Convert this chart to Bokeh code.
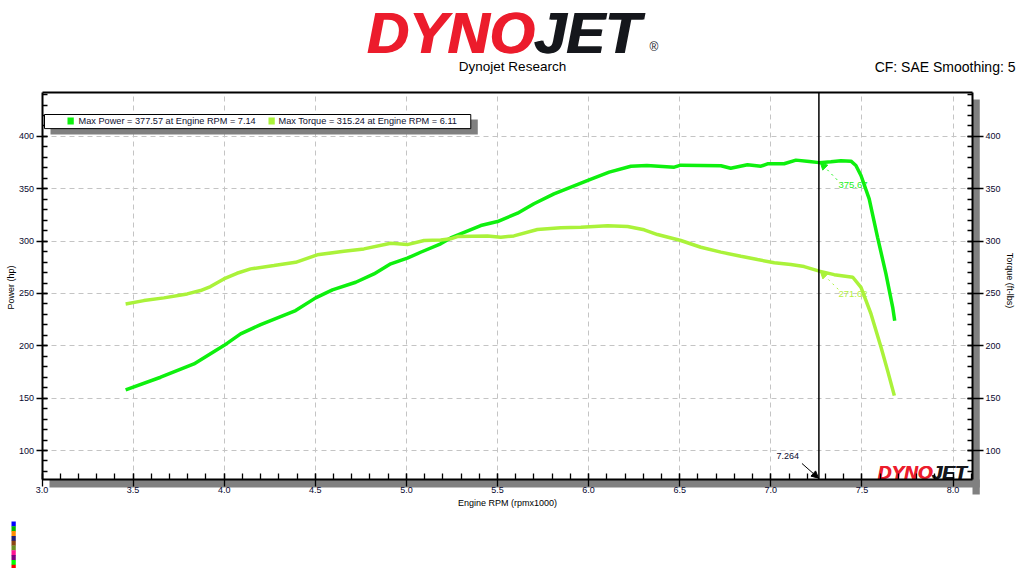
import numpy as np
from bokeh.plotting import figure
from bokeh.models import (Range1d, LinearAxis, SingleIntervalTicker, Label,
                          Arrow, NormalHead, NumeralTickFormatter)
from bokeh.embed import file_html
from bokeh.resources import INLINE

# ---------------- data ----------------
power_rpm = [3.459, 3.651, 3.834, 3.998, 4.090, 4.200, 4.392, 4.502, 4.594, 4.722,
             4.822, 4.914, 5.005, 5.078, 5.188, 5.243, 5.408, 5.500, 5.610, 5.700,
             5.810, 6.003, 6.113, 6.232, 6.320, 6.470, 6.506, 6.616, 6.726, 6.780,
             6.872, 6.946, 6.982, 7.073, 7.138, 7.211, 7.266, 7.330, 7.385, 7.440,
             7.467, 7.495, 7.540, 7.586, 7.632, 7.669, 7.680]
power_hp = [158.0, 170.0, 182.7, 200.2, 211.4, 220.3, 233.7, 245.8, 253.4, 260.7,
            268.7, 278.3, 283.7, 289.4, 297.4, 303.1, 314.9, 318.7, 326.7, 335.7,
            345.2, 358.6, 365.9, 371.6, 372.3, 370.7, 372.6, 372.3, 372.0, 369.7,
            372.9, 371.6, 373.9, 373.9, 377.4, 376.1, 375.0, 375.8, 376.8, 376.4,
            372.3, 362.7, 340.4, 303.7, 268.7, 236.8, 224.0]

torque_rpm = [3.459, 3.559, 3.669, 3.797, 3.870, 3.925, 3.998, 4.070, 4.145, 4.273,
              4.392, 4.511, 4.657, 4.767, 4.914, 5.005, 5.097, 5.188, 5.243, 5.280,
              5.445, 5.518, 5.590, 5.719, 5.847, 5.957, 6.104, 6.214, 6.305, 6.378,
              6.506, 6.616, 6.726, 6.836, 6.927, 7.019, 7.110, 7.183, 7.266, 7.348,
              7.450, 7.495, 7.550, 7.605, 7.641, 7.678]
torque_ftlb = [240.0, 243.2, 245.8, 249.6, 252.8, 256.6, 263.9, 269.3, 273.5, 276.7,
               279.8, 286.9, 290.3, 292.6, 298.0, 296.7, 300.6, 301.2, 302.2, 304.4,
               305.0, 303.7, 305.0, 311.1, 312.7, 313.3, 314.6, 314.0, 310.8, 306.3,
               300.6, 294.2, 289.5, 285.6, 282.4, 279.3, 277.6, 275.7, 271.4, 268.0,
               265.5, 255.9, 230.5, 198.6, 176.3, 152.4]

x_bounds = [3.0, 8.107]          # rpm x1000 shown on the axis
y_bounds = [72.3, 442.0]         # hp / ft-lbs shown on the axes
x_major_ticks = [3.0, 3.5, 4.0, 4.5, 5.0, 5.5, 6.0, 6.5, 7.0, 7.5, 8.0]
y_major_ticks = [100, 150, 200, 250, 300, 350, 400]

cursor_rpm = 7.264
cursor_power_text = "375.67"
cursor_torque_text = "271.62"
legend_power_text = "Max Power = 377.57 at Engine RPM = 7.14"
legend_torque_text = "Max Torque = 315.24 at Engine RPM = 6.11"
swatch_colors = ["#0000FF", "#00B400", "#FF8C00", "#1E1E78", "#8B4513",
                 "#6B8E23", "#FF1493", "#800080", "#00FF00", "#FF0000"]

POWER_C = "#0EF00E"
TORQUE_C = "#AAF23A"
LOGO_RED = "#EC1C2C"
LOGO_DARK = "#15171C"
FONT = "Liberation Sans"
TICK_C = "#0a0a30"

# ---------------- geometry (page pixels) ----------------
W, H = 1016, 568
FL, FR, FT, FB = 41.5, 972.0, 92.0, 479.0   # chart box on the page
sx = (FR - FL) / (x_bounds[1] - x_bounds[0])
sy = (FB - FT) / (y_bounds[1] - y_bounds[0])
x_range = Range1d(x_bounds[0] - FL / sx, x_bounds[1] + (W - FR) / sx)
y_range = Range1d(y_bounds[0] - (H - FB) / sy, y_bounds[1] + FT / sy)

p = figure(width=W, height=H, output_backend="svg", toolbar_location=None,
           x_range=x_range, y_range=y_range,
           min_border_left=0, min_border_right=0, min_border_top=0,
           min_border_bottom=0, x_axis_location=None, y_axis_location=None)
p.title.visible = False
p.background_fill_color = "white"
p.border_fill_color = "white"
p.outline_line_color = None

xt = SingleIntervalTicker(interval=0.5, num_minor_ticks=5)
yt = SingleIntervalTicker(interval=50, num_minor_ticks=5)

xa = LinearAxis(ticker=xt, formatter=NumeralTickFormatter(format="0.0"),
                fixed_location=y_bounds[0], bounds=tuple(x_bounds),
                major_tick_in=6, major_tick_out=7, minor_tick_in=6, minor_tick_out=0,
                major_label_standoff=0, axis_label="Engine RPM (rpmx1000)",
                axis_label_standoff=2, axis_label_text_font=FONT,
                axis_label_text_font_style="normal", axis_label_text_font_size="9px",
                axis_label_text_color="black")
p.add_layout(xa, "below")

ya = LinearAxis(ticker=yt, fixed_location=x_bounds[0], bounds=tuple(y_bounds),
                major_tick_in=5, major_tick_out=6, minor_tick_in=5, minor_tick_out=0,
                major_label_standoff=2)
p.add_layout(ya, "left")

yr = LinearAxis(ticker=yt, fixed_location=x_bounds[1], bounds=tuple(y_bounds),
                major_tick_in=5, major_tick_out=11, minor_tick_in=5, minor_tick_out=0,
                major_label_standoff=2)
p.add_layout(yr, "right")

xtop = LinearAxis(ticker=xt, fixed_location=y_bounds[1], bounds=tuple(x_bounds),
                  major_tick_in=0, major_tick_out=0, minor_tick_in=0, minor_tick_out=0,
                  major_label_text_color=None)
p.add_layout(xtop, "above")

for ax in (xa, ya, yr, xtop):
    ax.axis_line_color = "black"
    ax.axis_line_width = 2
    ax.major_tick_line_color = "black"
    ax.minor_tick_line_color = "black"
    ax.major_tick_line_width = 1.3
    ax.minor_tick_line_width = 1.3
    ax.major_label_text_font = FONT
    ax.major_label_text_font_size = "9px"
for ax in (xa, ya, yr):
    ax.major_label_text_color = TICK_C

# grid limited to the chart box
xg, yg = p.xgrid[0], p.ygrid[0]
if "cross_bounds" in xg.properties():
    xg.ticker = xt
    yg.ticker = yt
    xg.bounds = tuple(x_bounds)
    yg.bounds = tuple(y_bounds)
    xg.cross_bounds = tuple(y_bounds)
    yg.cross_bounds = tuple(x_bounds)
    for g in (xg, yg):
        g.grid_line_color = "#c4c4c4"
        g.grid_line_dash = "5 4"
        g.grid_line_width = 1
else:
    xg.visible = False
    yg.visible = False
    p.segment(x0=x_major_ticks, y0=[y_bounds[0]] * len(x_major_ticks),
              x1=x_major_ticks, y1=[y_bounds[1]] * len(x_major_ticks),
              line_color="#c4c4c4", line_dash="5 4", line_width=1, level="underlay")
    p.segment(x0=[x_bounds[0]] * len(y_major_ticks), y0=y_major_ticks,
              x1=[x_bounds[1]] * len(y_major_ticks), y1=y_major_ticks,
              line_color="#c4c4c4", line_dash="5 4", line_width=1, level="underlay")


def box(px, py, w, h, color, border=None, level="underlay"):
    """Plain rectangle, top-left at page pixel (px, py)."""
    lab = Label(x=px, y=H - py, x_units="screen", y_units="screen", text=" ",
                text_font_size="1px", anchor="top_left",
                padding=dict(left=0, right=int(w), top=0, bottom=int(h)),
                background_fill_color=color, level=level,
                border_line_color=border, border_line_width=1)
    p.add_layout(lab)


def txt(px, py, s, size, color="black", align="left", baseline="middle",
        style="normal", angle=0.0, level="annotation"):
    lab = Label(x=px, y=H - py, x_units="screen", y_units="screen", text=s,
                text_font=FONT, text_font_size=size, text_color=color,
                text_align=align, text_baseline=baseline, text_font_style=style,
                angle=angle, level=level)
    p.add_layout(lab)


# chart box shadow
box(FR, FT + 7, 7, FB - FT + 7, "#808080")
box(FL + 7.5, FB, FR - FL, 7, "#808080")

# legend with shadow
box(50, 119, 427, 14, "#808080", level="annotation")
box(44, 114, 426, 13, "white", border="black", level="annotation")
box(67, 117, 6, 6, POWER_C, level="annotation")
box(268, 117, 6, 6, TORQUE_C, level="annotation")
txt(78, 120.5, legend_power_text, "9.2px", color="#101030")
txt(278, 120.5, legend_torque_text, "9.2px", color="#101030")

# header logo (drawn twice, slightly offset, for a heavier weight)
for dx in (0.0, 1.5):
    txt(366 + dx, 32, "DYNO", "58px", color=LOGO_RED, style="bold italic")
    txt(533 + dx, 32, "JET", "58px", color=LOGO_DARK, style="bold italic")
txt(649, 46, "\u00ae", "12px", color=LOGO_DARK)
txt(512, 66, "Dynojet Research", "13.5px", align="center")
txt(1015, 66, "CF: SAE Smoothing: 5", "14px", align="right")

# axis titles
txt(10, 287, "Power (hp)", "9px", align="center", angle=np.pi / 2)
txt(1009, 280, "Torque (ft-lbs)", "9px", align="center", angle=-np.pi / 2)

# small logo inside the chart
for dx in (0.0, 0.7):
    txt(877 + dx, 471.5, "DYNO", "19px", color=LOGO_RED, style="bold italic",
        level="underlay")
    txt(931 + dx, 471.5, "JET", "19px", color=LOGO_DARK, style="bold italic",
        level="underlay")

# colour swatches
for i, c in enumerate(swatch_colors):
    box(11, 521 + 4.8 * i, 4, 4, c, level="annotation")

# cursor value labels (drawn under the curves)
txt(838, 184, cursor_power_text, "9.5px", color="#22F022", level="underlay")
txt(838, 293.5, cursor_torque_text, "9.5px", color="#B4F040", level="underlay")
txt(776, 455, str(cursor_rpm), "9px", color=TICK_C)

# curves
p.line(power_rpm, power_hp, line_color=POWER_C, line_width=3.5)
p.line(torque_rpm, torque_ftlb, line_color=TORQUE_C, line_width=3.5)

# cursor
p.segment(x0=[cursor_rpm], y0=[y_bounds[0]], x1=[cursor_rpm], y1=[y_bounds[1]],
          line_color="black", line_width=1.5)

p.add_layout(Arrow(end=NormalHead(size=7, fill_color=POWER_C, line_color=POWER_C),
                   x_start=7.364, y_start=358.6, x_end=7.272, y_end=375.0,
                   line_color=POWER_C, line_dash="dotted", line_width=1))
p.add_layout(Arrow(end=NormalHead(size=7, fill_color=TORQUE_C, line_color=TORQUE_C),
                   x_start=7.37, y_start=254.0, x_end=7.272, y_end=271.0,
                   line_color=TORQUE_C, line_dash="dotted", line_width=1))
p.add_layout(Arrow(end=NormalHead(size=7, fill_color="black", line_color="black"),
                   x_start=7.171, y_start=87.6, x_end=7.262, y_end=73.6,
                   line_color="black", line_width=1))

open("out.html", "w").write(file_html(p, INLINE))
